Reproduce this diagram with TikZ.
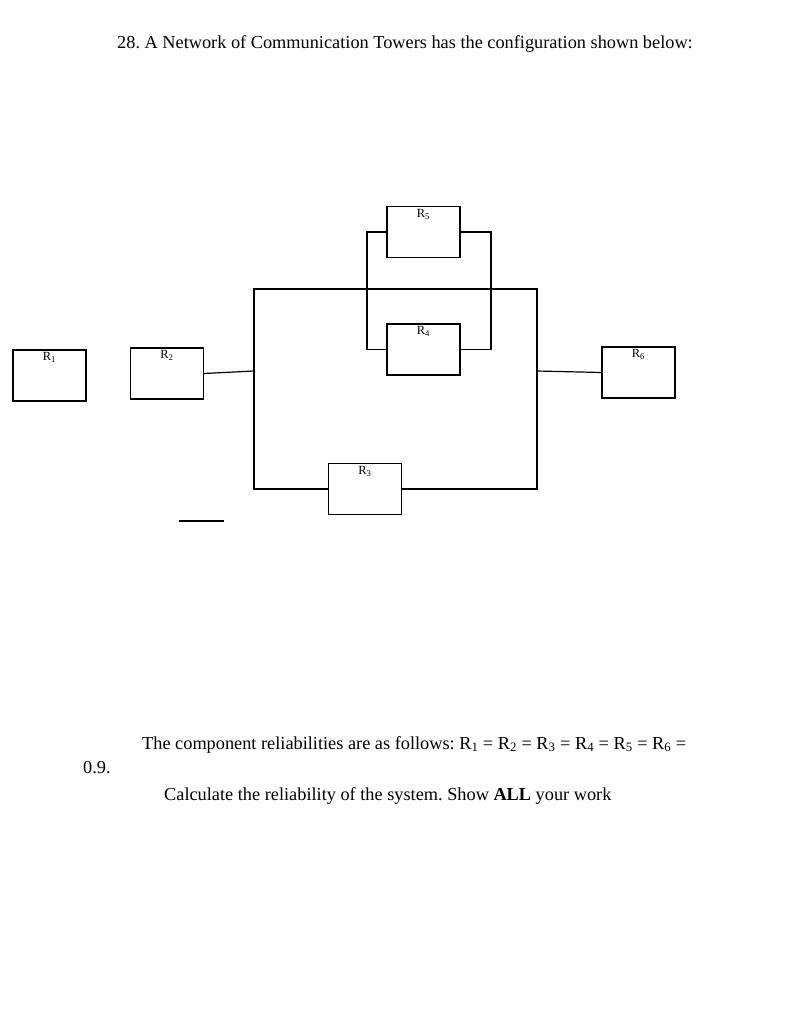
\documentclass[tikz,border=0pt]{standalone}
\usepackage{fontspec}
\setmainfont{Liberation Serif}
\usetikzlibrary{positioning}
\frenchspacing

\tikzset{
  relbox/.style={draw, line width=1.2pt, minimum width=73pt, minimum height=51pt, inner sep=0pt},
  rlabel/.style={font=\fontsize{12.5}{13}\selectfont, inner sep=0pt, anchor=north},
  wire/.style={line width=1.2pt},
  body/.style={font=\fontsize{18.3}{22}\selectfont, inner sep=0pt, anchor=base west}
}

\begin{document}
\begin{tikzpicture}[x=1pt, y=-1pt]
    \useasboundingbox (0,0) rectangle (797,1024);
    \node (title) [body] at (117,49) {28. A Network of Communication Towers has the configuration shown below:};

    % components
    \node (r1) [relbox] at (49.5,375.5) {};
    \node (r2) [relbox] at (167,373.5) {};
    \node (r3) [relbox] at (365,489) {};
    \node (r4) [relbox] at (423.5,349.5) {};
    \node (r5) [relbox] at (423.5,232) {};
    \node (r6) [relbox] at (638.5,372.5) {};
    \foreach \i in {1,...,6}
      \node (l\i) [rlabel, below=3pt of r\i.north] {R\textsubscript{\i}};

    % junctions
    \coordinate (inL) at (254,371);
    \coordinate (outR) at (537,371);
    \coordinate (splitL) at (367,289);
    \coordinate (splitR) at (491,289);

    \draw[wire] (r2.east) -- (inL);
    \draw[wire] (inL) |- (splitL) -- (splitR) -| (outR);
    \draw[wire] (inL) |- (r3.west);
    \draw[wire] (r3.east) -| (outR);
    \draw[wire] (r5.west) -| (splitL) |- (r4.west);
    \draw[wire] (r5.east) -| (splitR) |- (r4.east);
    \draw[wire] (outR) -- (r6.west);

    \coordinate (bar1) at (179,521);
    \coordinate (bar2) at (224,521);
    \draw[wire] (bar1) -- (bar2);

    % text
    \node (given) [body] at (142,749) {The component reliabilities are as follows: R\textsubscript{1} = R\textsubscript{2} = R\textsubscript{3} = R\textsubscript{4} = R\textsubscript{5} = R\textsubscript{6} =};
    \node (value) [body] at (83,773) {0.9.};
    \node (task) [body] at (164,800) {Calculate the reliability of the system. Show \textbf{ALL} your work};
\end{tikzpicture}
\end{document}
